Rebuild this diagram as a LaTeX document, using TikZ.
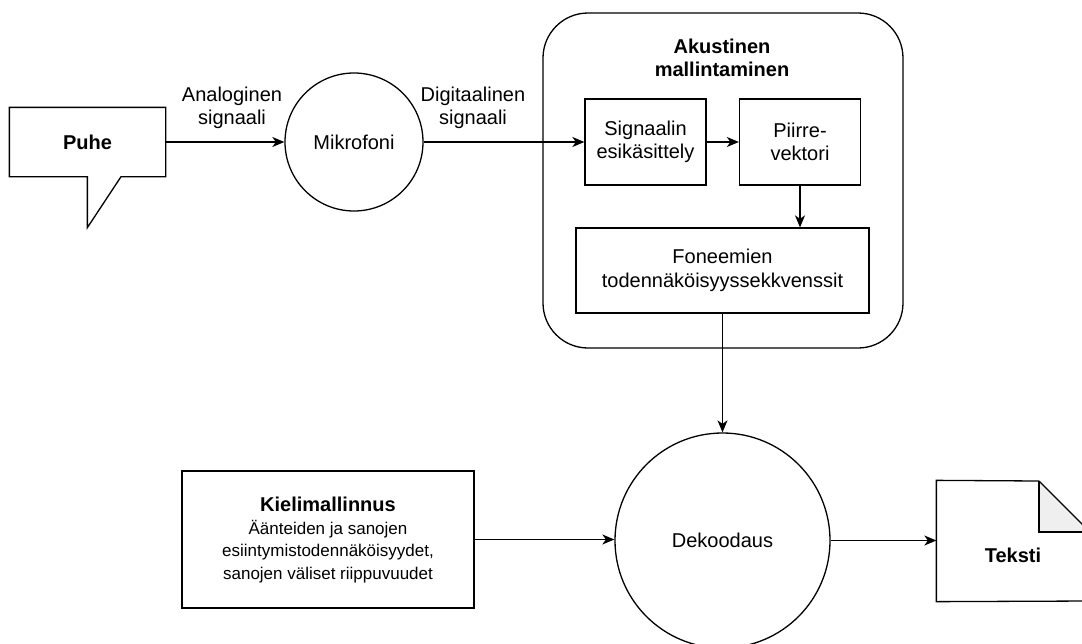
\documentclass[tikz,border=0pt]{standalone}
\usepackage{fontspec}
\setmainfont{Liberation Sans}
\usetikzlibrary{arrows.meta,calc}
\definecolor{foldgray}{HTML}{EFEFEF}
\begin{document}
\begin{tikzpicture}[x=1pt,y=-1pt,line width=1.3pt,
  big/.style={font=\fontsize{20}{23.5}\selectfont},
  box/.style={draw,rectangle,align=center,inner sep=0pt,big},
  circ/.style={draw,circle,inner sep=0pt,big},
  lbl/.style={align=center,inner sep=0pt,big},
  arr/.style={-{Stealth[length=12pt,width=10pt,inset=3.5pt]}}]
\useasboundingbox (0,0) rectangle (1082,643);

% container
\node (akm) [draw,rectangle,rounded corners=45pt,minimum width=360pt,minimum height=335pt] at (723,180.5) {};
\node (akmt) [lbl] at (722,58) {\textbf{Akustinen}\\\textbf{mallintaminen}};

% speech bubble
\node (puhe) [minimum width=155pt,minimum height=68pt,big] at (87.5,142) {\textbf{Puhe}};
\draw (puhe.north west) -- (puhe.north east) -- (puhe.south east)
  -- ($(puhe.south west)+(111.7,0)$) -- ($(puhe.south west)+(78,51)$)
  -- ($(puhe.south west)+(78,0)$) -- (puhe.south west) -- cycle;

% circles
\node (mik) [circ,minimum size=138pt] at (354,142) {Mikrofoni};
\node (dek) [circ,minimum size=215pt] at (722.5,540.5) {Dekoodaus};

% inner boxes
\node (sig) [box,minimum width=121pt,minimum height=86pt] at (645.5,142) {Signaalin\\esikäsittely};
\node (pii) [box,minimum width=121pt,minimum height=86pt] at (800,142) {Piirre-\\vektori};
\node (fon) [box,minimum width=293pt,minimum height=85pt] at (722.5,270.5) {Foneemien\\todennäköisyyssekkvenssit};

% language model
\node (kie) [box,minimum width=292pt,minimum height=137pt] at (328,539.5) {};
\node (kiet) [align=center,inner sep=0pt,font=\fontsize{17}{22.5}\selectfont] at (328,540)
  {{\fontsize{20}{22.5}\selectfont\textbf{Kielimallinnus}}\\
   Äänteiden ja sanojen\\
   esiintymistodennäköisyydet,\\
   sanojen väliset riippuvuudet};

% document
\node (tek) [minimum width=153pt,minimum height=120pt] at (1013.5,541) {};
\fill[foldgray] (1039,481) -- (1090,532) -- (1039,532) -- cycle;
\draw (1039,481) -- (tek.north west) -- (tek.south west) -- (1090,601);
\draw (1039,481) -- (1090,532);
\draw (1039,481) -- (1039,532) -- (1090,532);
\node (tekt) [big] at (1013,555) {\textbf{Teksti}};

% labels
\node (lana) [lbl] at (232,108) {Analoginen\\signaali};
\node (ldig) [lbl] at (473,108) {Digitaalinen\\signaali};

% connectors
\draw[arr] (puhe.east) -- (puhe.east -| mik.west);
\draw[arr] (mik.east) -- (mik.east -| sig.west);
\draw[arr] (sig.east) -- (sig.east -| pii.west);
\draw[arr] (pii.south) -- (pii.south |- fon.north);
\draw[arr] (fon.south) -- (fon.south |- dek.north);
\draw[arr] (kie.east) -- (kie.east -| dek.west);
\draw[arr] (dek.east) -- (dek.east -| tek.west);
\end{tikzpicture}
\end{document}
